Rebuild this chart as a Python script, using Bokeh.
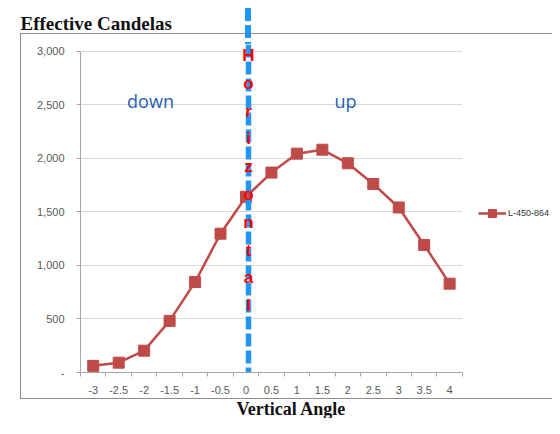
from bokeh.plotting import figure
from bokeh.models import (Range1d, FixedTicker, Label, Title, BoxAnnotation,
                          Legend, LegendItem)
from bokeh.embed import file_html
from bokeh.resources import INLINE

# ---- data ----
angles = [-3, -2.5, -2, -1.5, -1, -0.5, 0, 0.5, 1, 1.5, 2, 2.5, 3, 3.5, 4]
x_labels = ["-3", "-2.5", "-2", "-1.5", "-1", "-0.5", "0", "0.5", "1", "1.5",
            "2", "2.5", "3", "3.5", "4"]
candelas = [62, 92, 204, 482, 845, 1297, 1642, 1868, 2045, 2082, 1955, 1762,
            1542, 1192, 830]
series_name = "L-450-864"
y_ticks = [0, 500, 1000, 1500, 2000, 2500, 3000]
y_labels = ["-", "500", "1,000", "1,500", "2,000", "2,500", "3,000"]
title_text = "Effective Candelas"
x_title = "Vertical Angle"
marker_text = "Horizontal"

W, H = 552, 418
FL, FT, FB = 80, 44, 374   # frame left / top / bottom (canvas px)
Y_END = 3065               # headroom above 3000 for the overlay text
X_LO = angles[0] - 0.25
X_HI = angles[-1] + 0.25
X_END = X_HI + 1.77        # room on the right for the legend
LINE_X = 0.05              # the dashed "Horizontal" marker sits just right of 0


def sx(px):
    return px - FL


def sy(py):
    return FB - py


# thin chart border + top part of the blue dashed marker line (CSS, under the svg)
bg = ", ".join([
    "repeating-linear-gradient(to bottom, #2196F3 0px, #2196F3 13px, "
    "transparent 13px, transparent 17px) 245px 8px / 6px 36px no-repeat",
    "linear-gradient(#8C8C8C, #8C8C8C) 20px 33px / 1px 366px no-repeat",
    "linear-gradient(#8C8C8C, #8C8C8C) 20px 33px / 540px 1px no-repeat",
    "linear-gradient(#8C8C8C, #8C8C8C) 20px 398px / 540px 1px no-repeat",
])

p = figure(width=W, height=H, output_backend="svg", toolbar_location=None,
           x_range=Range1d(X_LO, X_END),
           y_range=Range1d(y_ticks[0], Y_END),
           min_border_left=FL, min_border_right=0,
           min_border_top=FT, min_border_bottom=H - FB,
           styles={"background": bg})
p.background_fill_color = "white"
p.background_fill_alpha = 0
p.border_fill_alpha = 0
p.outline_line_color = None
p.xgrid.grid_line_color = None
p.ygrid.grid_line_color = "#D9D9D9"
p.ygrid.grid_line_width = 1

bounds = [a - 0.25 for a in angles] + [X_HI]
p.xaxis.ticker = FixedTicker(ticks=angles, minor_ticks=bounds)
p.xaxis.bounds = (X_LO, X_HI)
p.xaxis.major_label_overrides = {a: l for a, l in zip(angles, x_labels)}
p.xaxis.major_tick_out = 0
p.xaxis.major_tick_in = 0
p.xaxis.minor_tick_out = 4
p.xaxis.minor_tick_in = 0
p.xaxis.minor_tick_line_color = "#A6A6A6"
p.xaxis.major_label_standoff = 9

p.yaxis.ticker = FixedTicker(ticks=y_ticks)
p.ygrid.ticker = FixedTicker(ticks=y_ticks)
p.yaxis.bounds = (y_ticks[0], y_ticks[-1])
p.yaxis.major_label_overrides = {t: l for t, l in zip(y_ticks, y_labels)}
p.yaxis.major_tick_out = 4
p.yaxis.major_tick_in = 0
p.yaxis.minor_tick_line_color = None
p.yaxis.major_label_standoff = 12

for ax in (p.xaxis, p.yaxis):
    ax.axis_line_color = "#A6A6A6"
    ax.major_tick_line_color = "#A6A6A6"
    ax.major_label_text_font = "Liberation Sans"
    ax.major_label_text_font_size = "11px"
    ax.major_label_text_color = "#595959"

# white cover so the gridlines stop at the end of the category axis
p.add_layout(BoxAnnotation(left=X_HI, fill_color="white", fill_alpha=1,
                           line_color=None, level="underlay"))

red = "#BE4B48"
ln = p.line(angles, candelas, line_color=red, line_width=2.5)
sc = p.scatter(angles, candelas, marker="square", size=11,
               fill_color=red, line_color=red)

# blue dashed vertical line (inside the plot area), drawn over the series
p.vspan(x=[LINE_X], line_color="#2196F3", line_width=5.5, line_dash="13 4")

# titles
p.title.text = title_text
p.title.align = "left"
p.title.offset = 20 - FL
p.title.standoff = 21
p.title.text_font = "Liberation Serif"
p.title.text_font_style = "bold"
p.title.text_font_size = "19px"
p.title.text_color = "#111111"

p.add_layout(Title(text=x_title, align="left", offset=236 - FL,
                   standoff=0, text_font="Liberation Serif",
                   text_font_style="bold", text_font_size="18px",
                   text_color="#111111"), "below")

# down / up
for t, cx in (("down", 150), ("up", 345)):
    p.add_layout(Label(x=sx(cx), y=sy(102), x_units="screen", y_units="screen",
                       text=t, text_font="Open Sans", text_font_size="18px",
                       text_color="#1F5FAD", text_align="center",
                       text_baseline="alphabetic"))

# vertical "Horizontal" text, drawn above the dashed line
for i, ch in enumerate(marker_text):
    p.add_layout(Label(x=sx(248), y=sy(57 + 27.8 * i), x_units="screen",
                       y_units="screen", text=ch, text_font="Liberation Sans",
                       text_font_size="17px", text_font_style="bold",
                       text_color="#FF0000", text_align="center",
                       text_baseline="alphabetic", level="overlay"))

# legend
legend = Legend(items=[LegendItem(label=series_name, renderers=[ln, sc])],
                location=(sx(478), sy(225)), padding=0, margin=0, spacing=0,
                border_line_color=None, background_fill_alpha=0,
                glyph_width=28, glyph_height=20, label_height=20,
                label_standoff=2, label_text_font="Liberation Sans",
                label_text_font_size="9px", label_text_color="#333333")
p.add_layout(legend, "center")

open("out.html", "w").write(file_html(p, INLINE))
